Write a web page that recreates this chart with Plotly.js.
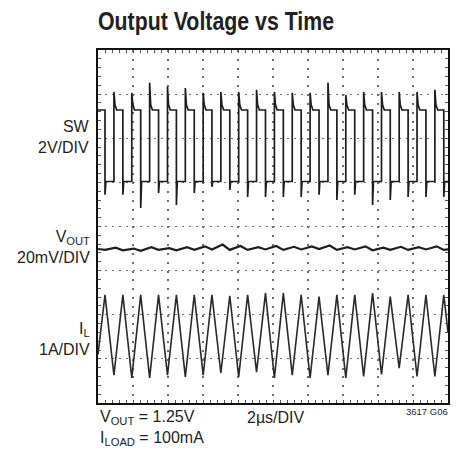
<!DOCTYPE html>
<html><head><meta charset="utf-8">
<script src="https://cdn.plot.ly/plotly-3.0.1.min.js"></script>
<style>html,body{margin:0;padding:0;background:#fff}</style>
</head><body>
<div id="chart" style="width:465px;height:452px"></div>
<script>
// Time in µs (2 µs/DIV, 10 DIV), values in screen divisions (0 = bottom, 8 = top)
const fallT = [0.40, 1.42, 2.44, 3.46, 4.48, 5.50, 6.51, 7.53, 8.55, 9.57, 10.59, 11.61, 12.63, 13.65, 14.67, 15.69, 16.70, 17.72, 18.74, 19.76];
const riseT = [0.91, 1.93, 2.95, 3.97, 4.99, 6.01, 7.02, 8.04, 9.06, 10.08, 11.10, 12.12, 13.14, 14.16, 15.18, 16.20, 17.21, 18.23, 19.25];

// SW trace (2V/DIV)
const swHigh = 6.64, swLow = 5.02, swHook = 6.76;
const swSpike = [7.05, 7.03, 7.26, 7.17, 7.14, 7.03, 7.05, 7.05, 7.10, 7.05, 7.03, 7.03, 7.26, 6.98, 7.05, 7.05, 7.05, 7.05, 7.10];
const swDip = [4.72, 4.72, 4.42, 4.76, 4.49, 4.76, 4.90, 4.83, 4.67, 4.67, 4.67, 4.67, 4.72, 4.60, 4.72, 4.49, 4.60, 4.67, 4.67, 4.67];

// IL trace (1A/DIV)
const ilStart = 1.10, ilEnd = 1.60;
const ilPeak = [2.45, 2.45, 2.45, 2.45, 2.45, 2.45, 2.45, 2.43, 2.45, 2.49, 2.49, 2.45, 2.41, 2.45, 2.45, 2.49, 2.41, 2.45, 2.45, 2.45];
const ilTrough = [0.63, 0.57, 0.57, 0.63, 0.59, 0.63, 0.68, 0.59, 0.70, 0.57, 0.63, 0.57, 0.63, 0.57, 0.60, 0.65, 0.79, 0.60, 0.60];

// VOUT trace (20mV/DIV)
const voutStart = 3.49, voutEnd = 3.48;
const voutLo = [3.47, 3.46, 3.45, 3.47, 3.46, 3.47, 3.48, 3.47, 3.47, 3.48, 3.47, 3.48, 3.49, 3.47, 3.48, 3.46, 3.47, 3.47, 3.48, 3.47];
const voutHi = [3.52, 3.50, 3.53, 3.51, 3.53, 3.55, 3.59, 3.56, 3.53, 3.56, 3.54, 3.55, 3.57, 3.53, 3.55, 3.52, 3.54, 3.53, 3.55];

// build polylines
const swX = [0], swY = [swHigh];
for (let k = 0; k < fallT.length; k++) {
  swX.push(fallT[k], fallT[k], fallT[k] + 0.05);
  swY.push(swHigh, swDip[k], swLow);
  if (k < riseT.length) {
    swX.push(riseT[k], riseT[k], riseT[k] + 0.06, riseT[k] + 0.16);
    swY.push(swLow, swSpike[k], swHook, swHigh);
  }
}
swX.push(20); swY.push(swLow);

const ilX = [0], ilY = [ilStart];
for (let k = 0; k < fallT.length; k++) {
  ilX.push(fallT[k]); ilY.push(ilPeak[k]);
  if (k < riseT.length) { ilX.push(riseT[k]); ilY.push(ilTrough[k]); }
}
ilX.push(20); ilY.push(ilEnd);

const vX = [0], vY = [voutStart];
for (let k = 0; k < fallT.length; k++) {
  vX.push(fallT[k]); vY.push(voutLo[k]);
  if (k < riseT.length) { vX.push(riseT[k] + 0.1); vY.push(voutHi[k]); }
}
vX.push(20); vY.push(voutEnd);

const traces = [
  {x: swX, y: swY, mode: 'lines', line: {color: '#1e1e1e', width: 1.7}, hoverinfo: 'skip'},
  {x: vX, y: vY, mode: 'lines', line: {color: '#1e1e1e', width: 2.2}, hoverinfo: 'skip'},
  {x: ilX, y: ilY, mode: 'lines', line: {color: '#2a2a2a', width: 1.6}, hoverinfo: 'skip'}
];

const TXT = '#231f20';
const F16 = {family: 'Liberation Sans, Arial, Helvetica, sans-serif', size: 16, color: TXT};
const tickCol = '#555';
function center(base, tks) {
  return Object.assign({anchor: 'free', position: 0.5, showline: true, linecolor: '#666', linewidth: 1,
    ticks: tks, ticklen: 3, tickcolor: '#666', tickwidth: 1, showgrid: false, zeroline: false,
    showticklabels: false, fixedrange: true}, base);
}
const layout = {
  width: 465, height: 452,
  margin: {l: 98, r: 17, t: 50, b: 49, pad: 0},
  paper_bgcolor: '#fff', plot_bgcolor: '#fff', showlegend: false,
  title: {text: 'Output Voltage vs Time',
    font: {family: 'Liberation Sans, Arial, sans-serif', size: 26, weight: 700, color: TXT},
    xref: 'paper', x: 0, xanchor: 'left', yref: 'container', y: 1 - 21 / 452, yanchor: 'middle'},
  xaxis: {range: [0, 20], dtick: 2, tick0: 0, showgrid: true, gridcolor: '#6f6f6f', gridwidth: 1.2, griddash: '2px,6.82px',
    showline: true, linecolor: '#111', linewidth: 2, mirror: 'allticks', ticks: 'inside', ticklen: 3, tickcolor: tickCol, tickwidth: 1,
    minor: {dtick: 0.4, tick0: 0, ticks: 'inside', ticklen: 3, tickcolor: tickCol, showgrid: false},
    showticklabels: false, zeroline: false, fixedrange: true},
  yaxis: {range: [0, 8], dtick: 1, tick0: 0, showgrid: true, gridcolor: '#6f6f6f', gridwidth: 1.2, griddash: '2px,5px',
    showline: true, linecolor: '#111', linewidth: 2, mirror: 'allticks', ticks: 'inside', ticklen: 3, tickcolor: tickCol, tickwidth: 1,
    minor: {dtick: 0.2, tick0: 0, ticks: 'inside', ticklen: 3, tickcolor: tickCol, showgrid: false},
    showticklabels: false, zeroline: false, fixedrange: true},
  xaxis2: center({overlaying: 'x', range: [0, 20], dtick: 2, tick0: 0, minor: {dtick: 0.4, tick0: 0, ticks: 'outside', ticklen: 3, tickcolor: '#666'}}, 'outside'),
  xaxis3: center({overlaying: 'x', range: [0, 20], dtick: 2, tick0: 0, minor: {dtick: 0.4, tick0: 0, ticks: 'inside', ticklen: 3, tickcolor: '#666'}}, 'inside'),
  yaxis2: center({overlaying: 'y', range: [0, 8], dtick: 1, tick0: 0, minor: {dtick: 0.2, tick0: 0, ticks: 'outside', ticklen: 3, tickcolor: '#666'}}, 'outside'),
  yaxis3: center({overlaying: 'y', range: [0, 8], dtick: 1, tick0: 0, minor: {dtick: 0.2, tick0: 0, ticks: 'inside', ticklen: 3, tickcolor: '#666'}}, 'inside'),
  annotations: [
    {xref: 'paper', yref: 'paper', x: -0.017, y: (403 - 137) / 353, xanchor: 'right', yanchor: 'middle', align: 'right',
     text: 'SW<br>2V/DIV', showarrow: false, font: F16},
    {xref: 'paper', yref: 'paper', x: -0.017, y: (403 - 247) / 353, xanchor: 'right', yanchor: 'middle', align: 'right',
     text: 'V<sub>OUT</sub><br>20mV/DIV', showarrow: false, font: F16},
    {xref: 'paper', yref: 'paper', x: -0.017, y: (403 - 339) / 353, xanchor: 'right', yanchor: 'middle', align: 'right',
     text: 'I<sub>L</sub><br>1A/DIV', showarrow: false, font: F16},
    {xref: 'paper', yref: 'paper', x: 0, y: (403 - 406) / 353, xanchor: 'left', yanchor: 'top', align: 'left',
     text: 'V<sub>OUT</sub> = 1.25V<br>I<sub>LOAD</sub> = 100mA', showarrow: false, font: F16},
    {xref: 'paper', yref: 'paper', x: (245 - 98) / 350, y: (403 - 417) / 353, xanchor: 'left', yanchor: 'middle',
     text: '2µs/DIV', showarrow: false, font: F16},
    {xref: 'paper', yref: 'paper', x: (450 - 98) / 350, y: (403 - 411) / 353, xanchor: 'right', yanchor: 'middle',
     text: '3617 G06', showarrow: false, font: {family: 'Liberation Sans, Arial, sans-serif', size: 9.5, color: TXT}}
  ]
};
Plotly.newPlot('chart', traces, layout, {displayModeBar: false, staticPlot: true}).then(function () {
  // condensed look for the bold title (Helvetica Condensed Bold in the original)
  const t = document.querySelector('#chart .gtitle');
  if (t) {
    const x0 = parseFloat(t.getAttribute('x')) || 98;
    const prev = t.getAttribute('transform') || '';
    t.setAttribute('transform', prev + ' translate(' + x0 + ',0) scale(0.82,1) translate(' + (-x0) + ',0)');
  }
});
</script>
</body></html>
